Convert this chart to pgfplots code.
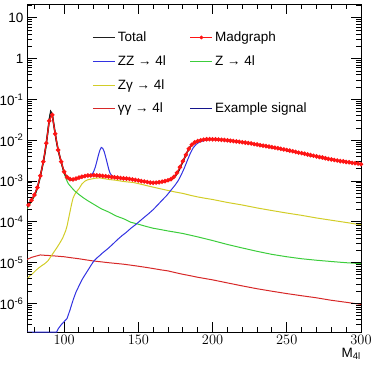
\documentclass[border=0pt]{standalone}
\usepackage{fontspec}
\setmainfont{Liberation Sans}
\usepackage{pgfplots}
\usepackage{pgfplotstable}
\pgfplotsset{compat=1.18}

\definecolor{cTotal}{RGB}{30,30,30}
\definecolor{cMG}{RGB}{255,20,20}
\definecolor{cZZ}{RGB}{50,50,225}
\definecolor{cZ}{RGB}{60,205,60}
\definecolor{cZg}{RGB}{210,205,40}
\definecolor{cgg}{RGB}{215,40,40}
\definecolor{cSig}{RGB}{20,20,140}

% total background
\pgfplotstableread{
x y
75 2.3e-4
76 2.6e-4
77 3.0e-4
78 3.4e-4
79 3.9e-4
80 4.6e-4
81 5.5e-4
82 7.0e-4
83 9.5e-4
84 1.35e-3
85 2.0e-3
86 3.0e-3
87 4.8e-3
88 8.5e-3
89 1.6e-2
90 3.2e-2
91 5.0e-2
92 4.3e-2
93 2.5e-2
94 1.45e-2
95 8.8e-3
96 5.8e-3
97 4.1e-3
98 3.0e-3
99 2.2e-3
100 1.7e-3
101 1.4e-3
102 1.2e-3
103 1.12e-3
104 1.08e-3
106 1.08e-3
108 1.13e-3
110 1.2e-3
112 1.27e-3
114 1.32e-3
116 1.36e-3
118 1.38e-3
120 1.4e-3
122 1.37e-3
124 1.38e-3
126 1.35e-3
128 1.32e-3
130 1.3e-3
133 1.25e-3
136 1.22e-3
139 1.18e-3
142 1.15e-3
145 1.12e-3
148 1.07e-3
151 1.02e-3
154 9.8e-4
157 9.4e-4
160 9.1e-4
163 9.3e-4
166 9.6e-4
169 1.0e-3
171 1.05e-3
173 1.15e-3
175 1.35e-3
177 1.75e-3
179 2.5e-3
181 3.6e-3
183 5.2e-3
185 7.0e-3
187 8.4e-3
189 9.2e-3
191 9.8e-3
194 1.03e-2
197 1.06e-2
200 1.07e-2
203 1.05e-2
206 1.04e-2
209 1.01e-2
212 9.9e-3
215 9.6e-3
218 9.1e-3
221 9.0e-3
224 8.5e-3
227 8.3e-3
230 7.8e-3
233 7.5e-3
236 7.3e-3
239 6.7e-3
242 6.6e-3
245 6.2e-3
248 6.0e-3
251 5.5e-3
254 5.4e-3
257 5.1e-3
260 4.8e-3
263 4.6e-3
266 4.2e-3
269 4.1e-3
272 3.9e-3
275 3.6e-3
278 3.5e-3
281 3.4e-3
284 3.15e-3
287 3.1e-3
290 3.0e-3
293 2.85e-3
296 2.8e-3
300 2.6e-3
}\totaltab

% example signal peak on top of the background
\pgfplotstableread{
x y
116 1.36e-3
118 1.4e-3
119 1.5e-3
120 1.75e-3
121 2.2e-3
122 3.0e-3
123 4.2e-3
124 5.6e-3
125 6.7e-3
126 6.4e-3
127 5.3e-3
128 3.9e-3
129 2.8e-3
130 2.0e-3
131 1.55e-3
132 1.38e-3
134 1.26e-3
}\signaltab

\pgfplotstableread{
x y
76 2.6e-4
78 3.4e-4
80 4.6e-4
82 7.0e-4
84 1.35e-3
86 3.0e-3
88 8.5e-3
90 3.0e-2
92 4.2e-2
94 1.45e-2
96 5.8e-3
98 3.0e-3
100 1.7e-3
102 1.25e-3
104 1.12e-3
106 1.1e-3
108 1.15e-3
110 1.22e-3
112 1.28e-3
114 1.33e-3
116 1.37e-3
118 1.38e-3
120 1.4e-3
122 1.38e-3
124 1.36e-3
126 1.34e-3
128 1.32e-3
130 1.29e-3
132 1.26e-3
134 1.24e-3
136 1.22e-3
138 1.19e-3
140 1.17e-3
142 1.15e-3
144 1.13e-3
146 1.1e-3
148 1.07e-3
150 1.04e-3
152 1.0e-3
154 9.8e-4
156 9.5e-4
158 9.2e-4
160 9.1e-4
162 9.2e-4
164 9.4e-4
166 9.7e-4
168 1.0e-3
170 1.05e-3
172 1.12e-3
174 1.28e-3
176 1.6e-3
178 2.2e-3
180 3.1e-3
182 4.4e-3
184 6.2e-3
186 7.8e-3
188 8.9e-3
190 9.6e-3
192 1.0e-2
194 1.04e-2
196 1.06e-2
198 1.07e-2
200 1.06e-2
202 1.06e-2
204 1.05e-2
206 1.03e-2
208 1.02e-2
210 1.0e-2
212 9.8e-3
214 9.6e-3
216 9.4e-3
218 9.2e-3
220 9.0e-3
222 8.8e-3
224 8.6e-3
226 8.4e-3
228 8.1e-3
230 7.9e-3
232 7.6e-3
234 7.4e-3
236 7.2e-3
238 7.0e-3
240 6.8e-3
242 6.6e-3
244 6.4e-3
246 6.2e-3
248 6.0e-3
250 5.8e-3
252 5.6e-3
254 5.4e-3
256 5.2e-3
258 5.0e-3
260 4.85e-3
262 4.7e-3
264 4.5e-3
266 4.35e-3
268 4.2e-3
270 4.05e-3
272 3.9e-3
274 3.8e-3
276 3.65e-3
278 3.5e-3
280 3.4e-3
282 3.3e-3
284 3.2e-3
286 3.1e-3
288 3.05e-3
290 2.95e-3
292 2.9e-3
294 2.8e-3
296 2.75e-3
298 2.7e-3
300 2.6e-3
}\madgraphtab

\pgfplotstableread{
x y
75 2e-7
95 2e-7
96 2.4e-7
98 3e-7
100 3.6e-7
102 4.3e-7
104 7e-7
106 1.2e-6
108 1.9e-6
110 2.7e-6
112 3.8e-6
114 5e-6
116 6.5e-6
118 8.5e-6
120 1.1e-5
122 1.3e-5
124 1.5e-5
126 1.75e-5
128 2.0e-5
130 2.3e-5
133 2.9e-5
136 3.7e-5
139 4.6e-5
142 5.6e-5
145 7e-5
148 8.5e-5
151 1.05e-4
154 1.3e-4
157 1.6e-4
160 2.0e-4
163 2.6e-4
166 3.4e-4
169 4.4e-4
172 6.0e-4
175 8.2e-4
177 1.05e-3
179 1.45e-3
181 2.1e-3
183 3.2e-3
185 4.8e-3
187 6.6e-3
189 8.0e-3
191 9.0e-3
194 9.8e-3
197 1.04e-2
200 1.05e-2
220 8.9e-3
240 6.7e-3
260 4.8e-3
280 3.4e-3
300 2.6e-3
}\zztab

\pgfplotstableread{
x y
75 2.1e-4
77 2.8e-4
79 3.6e-4
81 5.1e-4
83 9.0e-4
85 1.9e-3
87 4.6e-3
88 8.3e-3
89 1.6e-2
90 3.2e-2
91 5.0e-2
92 4.3e-2
93 2.5e-2
94 1.45e-2
95 8.8e-3
96 5.8e-3
97 4.0e-3
98 2.9e-3
99 2.1e-3
100 1.55e-3
101 1.22e-3
102 1.0e-3
103 8.5e-4
105 7e-4
107 5.8e-4
110 4.7e-4
113 3.9e-4
116 3.3e-4
120 2.7e-4
125 2.1e-4
130 1.75e-4
135 1.4e-4
140 1.2e-4
145 9.8e-5
150 8.8e-5
155 7.8e-5
160 7e-5
165 6.5e-5
170 6e-5
175 5.6e-5
180 5.2e-5
190 4.3e-5
200 3.5e-5
210 2.8e-5
220 2.3e-5
230 1.9e-5
240 1.6e-5
250 1.4e-5
260 1.25e-5
270 1.15e-5
280 1.07e-5
290 1.0e-5
300 9.5e-6
}\zfourtab

\pgfplotstableread{
x y
75 4e-6
77 4.8e-6
79 5.5e-6
81 6.5e-6
83 7.5e-6
85 8.5e-6
87 9.5e-6
89 1.1e-5
91 1.4e-5
93 1.8e-5
95 2.3e-5
97 3e-5
99 4e-5
101 6e-5
102 8e-5
103 1.2e-4
104 1.8e-4
105 2.7e-4
106 3.8e-4
107 4.6e-4
108 5.3e-4
110 6.5e-4
112 8.5e-4
114 1.0e-3
116 1.08e-3
118 1.12e-3
121 1.18e-3
124 1.2e-3
127 1.15e-3
130 1.1e-3
135 1.05e-3
140 9.8e-4
147 9.2e-4
153 8.2e-4
158 7.4e-4
164 6.6e-4
170 5.9e-4
175 5.4e-4
180 5e-4
185 4.5e-4
190 4.1e-4
195 3.8e-4
200 3.55e-4
210 3.0e-4
220 2.6e-4
230 2.2e-4
240 1.9e-4
250 1.65e-4
260 1.45e-4
270 1.25e-4
280 1.1e-4
290 9.7e-5
300 8.5e-5
}\zgtab

\pgfplotstableread{
x y
75 1.2e-5
78 1.35e-5
81 1.45e-5
84 1.55e-5
87 1.52e-5
90 1.5e-5
95 1.45e-5
100 1.4e-5
105 1.32e-5
110 1.25e-5
115 1.17e-5
120 1.1e-5
125 1.05e-5
130 1.0e-5
135 9.6e-6
140 9.2e-6
145 8.7e-6
150 8.2e-6
155 7.7e-6
160 7.2e-6
165 6.7e-6
170 6.3e-6
175 5.7e-6
180 5.2e-6
185 4.8e-6
190 4.4e-6
200 3.8e-6
210 3.2e-6
220 2.7e-6
230 2.3e-6
240 2.0e-6
250 1.75e-6
260 1.55e-6
270 1.38e-6
280 1.2e-6
290 1.07e-6
300 9.5e-7
}\ggtab

\pgfplotsset{
    mglegend/.style={legend image code/.code={
        \draw[cMG, line width=1.3pt] (0pt,0pt) -- (22pt,0pt);
        \fill[cMG] (11pt,0pt) circle (1.7pt);}},
}

\begin{document}
\begin{tikzpicture}
\path[use as bounding box] (-27pt,-36pt) rectangle (347pt,332pt);
\begin{axis}[
    scale only axis,
    width=334pt, height=328pt,
    xmin=75, xmax=300,
    ymode=log, ymin=2e-7, ymax=22,
    xtick={100,150,200,250,300},
    ytick={1e-6,1e-5,1e-4,1e-3,1e-2,1e-1,1,10},
    yticklabels={10\textsuperscript{-6},10\textsuperscript{-5},10\textsuperscript{-4},10\textsuperscript{-3},10\textsuperscript{-2},10\textsuperscript{-1},1,10},
    major tick length=10pt,
    every tick/.append style={black, line width=1pt},
    axis line style={black, line width=1pt},
    tick label style={font=\fontsize{13.5}{16}\selectfont},
    xlabel={M\textsubscript{4l}},
    xlabel style={at={(rel axis cs:1,0)}, anchor=north east, yshift=-16pt,
        inner sep=0pt, font=\fontsize{13.5}{16}\selectfont},
    legend columns=2,
    legend cell align=left,
    legend style={at={(0.185,0.928)}, anchor=north west, draw=none, fill=none,
        font=\fontsize{13.5}{16}\selectfont, row sep=8.5pt,
        /tikz/every even column/.append style={column sep=22pt}},
    legend image code/.code={\draw[#1] (0pt,0pt) -- (22pt,0pt);},
]
% legend entries
\addlegendimage{cTotal, line width=1.8pt}
\addlegendentry{Total}
\addlegendimage{mglegend}
\addlegendentry{Madgraph}
\addlegendimage{cZZ, line width=1pt}
\addlegendentry{ZZ → 4l}
\addlegendimage{cZ, line width=1pt}
\addlegendentry{Z → 4l}
\addlegendimage{cZg, line width=1pt}
\addlegendentry{Zγ → 4l}
\addlegendimage{empty legend}
\addlegendentry{}
\addlegendimage{cgg, line width=1pt}
\addlegendentry{γγ → 4l}
\addlegendimage{cSig, line width=0.8pt}
\addlegendentry{Example signal}

% curves
\addplot[cgg, line width=1pt, forget plot] table {\ggtab};
\addplot[cZg, line width=1pt, forget plot] table {\zgtab};
\addplot[cZ, line width=1pt, forget plot] table {\zfourtab};
\addplot[cZZ, line width=1pt, forget plot] table {\zztab};
\addplot[cSig, line width=0.8pt, forget plot] table {\totaltab};
\addplot[cZZ, line width=1pt, forget plot] table {\signaltab};
\addplot[cTotal, line width=1.6pt, forget plot] table {\totaltab};
\addplot[cMG, line width=1.2pt, mark=*, mark size=1.6pt, mark options={fill=cMG, draw=cMG}, forget plot] table {\madgraphtab};

% tick marks drawn by hand along all four sides
\pgfplotsinvokeforeach{100,150,200,250}{
  \draw[black, line width=1pt] (axis cs:#1,2e-7) -- ++(0pt,10pt);
  \draw[black, line width=1pt] (axis cs:#1,22) -- ++(0pt,-10pt);
}
\pgfplotsinvokeforeach{80,90,110,120,130,140,160,170,180,190,210,220,230,240,260,270,280,290}{
  \draw[black, line width=1pt] (axis cs:#1,2e-7) -- ++(0pt,5pt);
  \draw[black, line width=1pt] (axis cs:#1,22) -- ++(0pt,-5pt);
}
\pgfplotsinvokeforeach{1e-6,1e-5,1e-4,1e-3,1e-2,1e-1,1,10}{
  \draw[black, line width=1pt] (axis cs:75,#1) -- ++(10pt,0pt);
  \draw[black, line width=1pt] (axis cs:300,#1) -- ++(-10pt,0pt);
}
\pgfplotsinvokeforeach{2e-7,3e-7,4e-7,5e-7,6e-7,7e-7,8e-7,9e-7,
                 2e-6,3e-6,4e-6,5e-6,6e-6,7e-6,8e-6,9e-6,
                 2e-5,3e-5,4e-5,5e-5,6e-5,7e-5,8e-5,9e-5,
                 2e-4,3e-4,4e-4,5e-4,6e-4,7e-4,8e-4,9e-4,
                 2e-3,3e-3,4e-3,5e-3,6e-3,7e-3,8e-3,9e-3,
                 2e-2,3e-2,4e-2,5e-2,6e-2,7e-2,8e-2,9e-2,
                 0.2,0.3,0.4,0.5,0.6,0.7,0.8,0.9,
                 2,3,4,5,6,7,8,9,20}{
  \draw[black, line width=1pt] (axis cs:75,#1) -- ++(5pt,0pt);
  \draw[black, line width=1pt] (axis cs:300,#1) -- ++(-5pt,0pt);
}
\end{axis}
\end{tikzpicture}
\end{document}
